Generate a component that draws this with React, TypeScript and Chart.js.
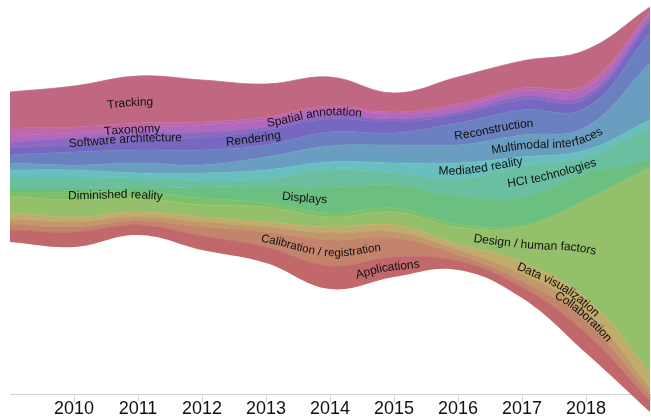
import React, { useEffect, useRef } from 'react';
import { Chart, registerables } from 'chart.js';

Chart.register(...registerables);

// ---- data (stream thickness per topic per year, bottom layer first) ----
const years = [2009, 2010, 2011, 2012, 2013, 2014, 2015, 2016, 2017, 2018, 2019];

const seriesNames = [
  'Applications',
  'Calibration / registration',
  'Collaboration',
  'Data visualization',
  'Design / human factors',
  'Diminished reality',
  'Displays',
  'HCI technologies',
  'Mediated reality',
  'Multimodal interfaces',
  'Reconstruction',
  'Rendering',
  'Software architecture',
  'Spatial annotation',
  'Taxonomy',
  'Tracking',
];

// stream offset (bottom edge of the stack)
const baseline = [188, 183, 195, 180, 167, 141, 153, 160, 132, 77, 18];

const applications = [12, 15, 10, 14, 16, 23, 20, 9, 11, 20, 11];
const calibration = [6, 5, 4, 9, 15, 26, 19, 6, 6, 11, 6];
const collaboration = [5, 5, 4, 5, 5, 7, 6, 5, 7, 11, 7];
const dataVisualization = [6, 5, 5, 5, 5, 6, 7, 6, 12, 13, 16];
const designHumanFactors = [17, 17, 14, 12, 15, 10, 13, 17, 35, 97, 204];
const diminishedReality = [4, 8, 6, 7, 4, 4, 4, 3, 2, 2, 2];
const displays = [4, 4, 5, 10, 16, 26, 23, 28, 28, 25, 6];
const hciTechnologies = [10, 10, 9, 7, 8, 17, 12, 17, 31, 17, 33];
const mediatedReality = [8, 8, 5, 8, 9, 8, 10, 16, 9, 7, 7];
const multimodalInterfaces = [7, 5, 10, 8, 13, 16, 18, 18, 22, 23, 57];
const reconstruction = [8, 13, 13, 15, 12, 14, 12, 22, 25, 19, 30];
const rendering = [7, 7, 10, 12, 15, 13, 11, 8, 10, 9, 11];
const softwareArchitecture = [6, 7, 7, 6, 3, 4, 3, 3, 4, 4, 3];
const spatialAnnotation = [7, 5, 5, 7, 7, 6, 5, 5, 5, 7, 5];
const taxonomy = [7, 6, 5, 3, 3, 3, 2, 3, 3, 4, 2];
const tracking = [36, 41, 47, 42, 33, 29, 19, 27, 27, 34, 5];

const seriesValues = [
  applications, calibration, collaboration, dataVisualization, designHumanFactors,
  diminishedReality, displays, hciTechnologies, mediatedReality, multimodalInterfaces,
  reconstruction, rendering, softwareArchitecture, spatialAnnotation, taxonomy, tracking,
];

// label anchor (year along the x axis) for each series
const labelYears = [
  2014.9, 2013.85, 2017.98, 2017.6, 2017.2, 2010.65, 2013.6, 2017.47,
  2016.36, 2017.4, 2016.56, 2012.8, 2010.8, 2013.75, 2010.9, 2010.875,
];

// ---- styles ----
const seriesColors = [
  '#c1686b', '#c2846b', '#c2986b', '#c1ad6b', '#95c06b', '#7cc06c', '#6bbf80', '#69bf9f',
  '#69bfbf', '#6a9ec0', '#6a80c0', '#7668c0', '#8f68c0', '#b168be', '#c068a4', '#c06882',
];
const labelShift = [0, 0, 0, 0, 0, 0, 0, 0, 0, 0, 2, 0, 2, 0, 4, 3];
const labelSize = [12, 11.5, 12, 12, 12, 12, 12, 12, 12, 12, 12, 12, 12, 12, 12, 12];

const cubic = (p0: number, p1: number, p2: number, p3: number, t: number) => {
  const u = 1 - t;
  return u * u * u * p0 + 3 * u * u * t * p1 + 3 * u * t * t * p2 + t * t * t * p3;
};

function curveY(pts: any[], px: number): number {
  const n = pts.length;
  if (px <= pts[0].x) return pts[0].y;
  if (px >= pts[n - 1].x) return pts[n - 1].y;
  for (let i = 0; i < n - 1; i++) {
    const a = pts[i];
    const b = pts[i + 1];
    if (px >= a.x && px <= b.x) {
      const x1 = a.cp2x ?? a.x;
      const y1 = a.cp2y ?? a.y;
      const x2 = b.cp1x ?? b.x;
      const y2 = b.cp1y ?? b.y;
      let lo = 0;
      let hi = 1;
      for (let k = 0; k < 30; k++) {
        const m = (lo + hi) / 2;
        if (cubic(a.x, x1, x2, b.x, m) < px) lo = m;
        else hi = m;
      }
      return cubic(a.y, y1, y2, b.y, (lo + hi) / 2);
    }
  }
  return pts[n - 1].y;
}

const streamLabels = {
  id: 'streamLabels',
  afterDatasetsDraw(chart: any) {
    const ctx = chart.ctx;
    const xScale = chart.scales.x;
    ctx.save();
    ctx.fillStyle = '#111';
    ctx.textAlign = 'center';
    ctx.textBaseline = 'middle';
    seriesNames.forEach((text, s) => {
      const top = chart.getDatasetMeta(s + 1).data;
      const bot = chart.getDatasetMeta(s).data;
      const mid = (px: number) => (curveY(top, px) + curveY(bot, px)) / 2 + labelShift[s];
      ctx.font = `${labelSize[s]}px "Liberation Sans", Arial, sans-serif`;
      const W = ctx.measureText(text).width;
      const ax = xScale.getPixelForValue(labelYears[s]);
      const step = 0.5;
      const xs: number[] = [];
      const ys: number[] = [];
      const ss: number[] = [];
      let acc = 0;
      const x0 = ax - W - 40;
      const x1 = ax + W + 40;
      for (let x = x0; x <= x1; x += step) {
        const y = mid(x);
        if (xs.length) acc += Math.hypot(x - xs[xs.length - 1], y - ys[ys.length - 1]);
        xs.push(x);
        ys.push(y);
        ss.push(acc);
      }
      const ai = Math.round((ax - x0) / step);
      let pos = ss[ai] - W / 2;
      for (const ch of text) {
        const cw = ctx.measureText(ch).width;
        const c = pos + cw / 2;
        let j = ss.findIndex((v) => v >= c);
        if (j < 1) j = 1;
        const f = (c - ss[j - 1]) / (ss[j] - ss[j - 1] || 1);
        const px = xs[j - 1] + f * (xs[j] - xs[j - 1]);
        const py = ys[j - 1] + f * (ys[j] - ys[j - 1]);
        const k0 = Math.max(0, j - 8);
        const k1 = Math.min(xs.length - 1, j + 8);
        const ang = Math.atan2(ys[k1] - ys[k0], xs[k1] - xs[k0]);
        ctx.save();
        ctx.translate(px, py);
        ctx.rotate(ang);
        ctx.fillText(ch, 0, 0);
        ctx.restore();
        pos += cw;
      }
    });
    ctx.restore();
  },
};

export default function App() {
  const canvasRef = useRef<HTMLCanvasElement | null>(null);

  useEffect(() => {
    if (!canvasRef.current) return;
    const datasets: any[] = [
      {
        label: 'offset',
        data: baseline,
        fill: false,
        borderWidth: 0,
        backgroundColor: 'rgba(0,0,0,0)',
        borderColor: 'rgba(0,0,0,0)',
        clip: false,
      },
      ...seriesNames.map((name, i) => ({
        label: name,
        data: seriesValues[i],
        fill: '-1',
        backgroundColor: seriesColors[i],
        borderColor: seriesColors[i],
        borderWidth: 0.75,
        clip: false,
      })),
    ];

    const chart = new Chart(canvasRef.current, {
      type: 'line',
      data: { labels: years, datasets },
      plugins: [streamLabels],
      options: {
        animation: false,
        responsive: false,
        maintainAspectRatio: false,
        events: [],
        layout: { padding: { left: 10, right: 1, top: 0, bottom: 0 } },
        plugins: {
          legend: { display: false },
          tooltip: { enabled: false },
          filler: { propagate: false },
        },
        elements: {
          point: { radius: 0, hoverRadius: 0 },
          line: { tension: 0.4, capBezierPoints: false },
        },
        scales: {
          x: {
            type: 'linear',
            min: 2009,
            max: 2019,
            position: { y: 36 } as any,
            grid: {
              display: true,
              drawOnChartArea: false,
              drawTicks: true,
              tickLength: 6,
              color: (c: any) => (c.tick && c.tick.value === 2009 ? 'rgba(0,0,0,0)' : '#d4d4d4'),
            },
            border: { display: true, color: '#d4d4d4', width: 1 },
            ticks: {
              stepSize: 1,
              autoSkip: false,
              maxRotation: 0,
              padding: 0.5,
              color: '#111',
              font: { family: '"Liberation Sans", Arial, sans-serif', size: 18, lineHeight: 1 },
              callback: (v: any) => (v === 2009 || v === 2019 ? '' : String(v)),
            },
          },
          y: {
            type: 'linear',
            display: false,
            stacked: true,
            min: 11,
            max: 430,
          },
        },
      },
    });
    return () => chart.destroy();
  }, []);

  return (
    <div style={{ position: 'absolute', left: 0, top: 0, width: 651, height: 419, background: '#fff' }}>
      <canvas ref={canvasRef} width={651} height={419} style={{ display: 'block' }} />
    </div>
  );
}
